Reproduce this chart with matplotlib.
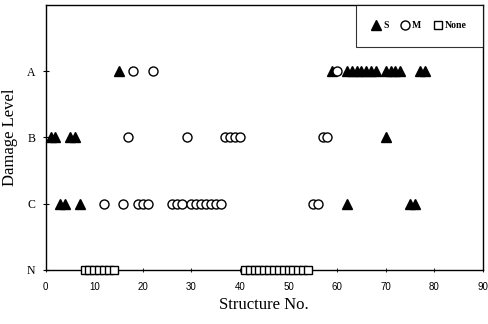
import matplotlib
matplotlib.use("Agg")
import matplotlib.pyplot as plt

# Damage levels: N=0, C=1, B=2, A=3
levels = ["N", "C", "B", "A"]

# S (filled triangles)
s_A = [15, 59, 62, 63, 64, 65, 66, 67, 68, 70, 71, 72, 73, 77, 78]
s_B = [1, 2, 5, 6, 70]
s_C = [3, 4, 7, 62, 75, 76]

# M (hollow circles)
m_A = [18, 22, 60]
m_B = [17, 29, 37, 38, 39, 40, 57, 58]
m_C = [12, 16, 19, 20, 21, 26, 27, 28, 30, 31, 32, 33, 34, 35, 36, 55, 56]

# None (hollow squares)
none_N = [8, 9, 10, 11, 12, 13, 14, 41, 42, 43, 44, 45, 46, 47, 48, 49, 50, 51, 52, 53, 54]

xticks = [0, 10, 20, 30, 40, 50, 60, 70, 80, 90]

fig = plt.figure(figsize=(4.89, 3.24), dpi=100)
ax = fig.add_axes([0.0935, 0.167, 0.894, 0.818])

sx = s_A + s_B + s_C
sy = [3] * len(s_A) + [2] * len(s_B) + [1] * len(s_C)
mx = m_A + m_B + m_C
my = [3] * len(m_A) + [2] * len(m_B) + [1] * len(m_C)

ax.plot(sx, sy, linestyle="none", marker="^", markersize=6.5,
        color="black", label="S", clip_on=False, zorder=3)
ax.plot(mx, my, linestyle="none", marker="o", markersize=6.5,
        markerfacecolor="white", markeredgecolor="black", markeredgewidth=1.0,
        label="M", clip_on=False, zorder=4)
ax.plot(none_N, [0] * len(none_N), linestyle="none", marker="s", markersize=6,
        markerfacecolor="white", markeredgecolor="black", markeredgewidth=1.0,
        label="None", clip_on=False, zorder=3)

ax.set_xlim(0, 90)
ax.set_ylim(0, 4)
ax.set_xticks(xticks)
ax.set_xticklabels([str(t) for t in xticks], fontsize=7, family="Liberation Sans")
ax.set_yticks([0, 1, 2, 3])
ax.set_yticklabels(levels, fontsize=8.5, family="Liberation Serif")
ax.tick_params(axis="y", direction="inout", length=5, width=0.8, pad=5)
ax.tick_params(axis="x", direction="inout", length=3, width=0.6, pad=7)

for sp in ax.spines.values():
    sp.set_linewidth(1.0)

ax.set_xlabel("Structure No.", fontsize=12, family="Liberation Serif", labelpad=4)
ax.set_ylabel("Damage Level", fontsize=12, family="Liberation Serif", labelpad=6)

leg = ax.legend(loc="upper right", ncol=3, frameon=True, fancybox=False,
                edgecolor="black", borderaxespad=0.0, handlelength=0.8,
                handletextpad=0.3, columnspacing=1.3, borderpad=1.7,
                prop={"family": "Liberation Serif", "weight": "bold", "size": 7})
leg.get_frame().set_linewidth(0.8)

fig.savefig("out.png", dpi=100)
